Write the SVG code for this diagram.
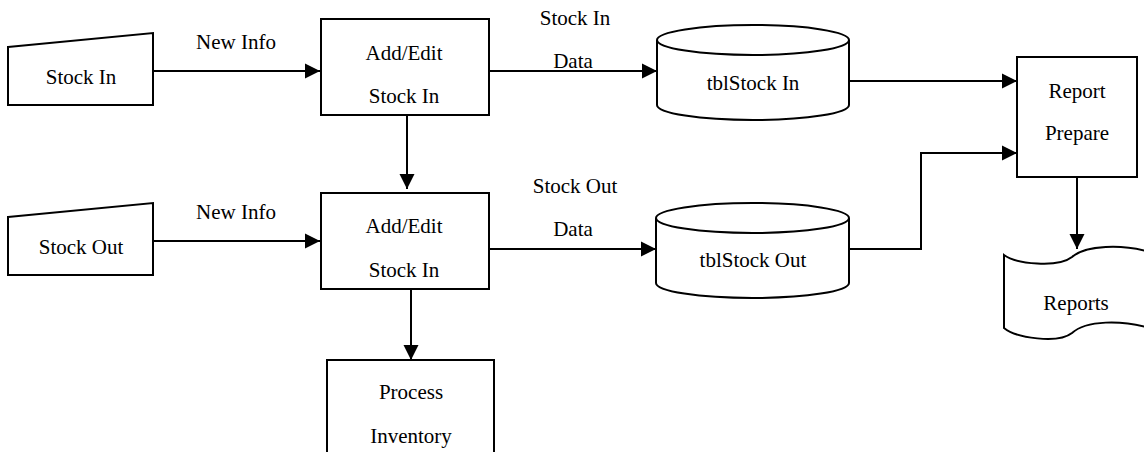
<svg xmlns="http://www.w3.org/2000/svg" width="1144" height="452" viewBox="0 0 1144 452">
  <style>
    .shape { fill: #ffffff; stroke: #000000; stroke-width: 2; }
    .line { fill: none; stroke: #000000; stroke-width: 2; }
    .lbl { font-size: 21px; fill: #000000; text-anchor: middle; }
  </style>
  <defs>
    <marker id="arrow" markerUnits="userSpaceOnUse" markerWidth="16" markerHeight="16" viewBox="0 0 16 16" refX="15" refY="8" orient="auto">
      <path d="M0,0.5 L15,8 L0,15.5 Z" fill="#000000"/>
    </marker>
  </defs>
  <rect width="1144" height="452" fill="#ffffff"/>

  <g id="connectors">
    <line class="line" x1="153" y1="71" x2="320" y2="71" marker-end="url(#arrow)"/>
    <line class="line" x1="489" y1="71" x2="657" y2="71" marker-end="url(#arrow)"/>
    <line class="line" x1="849" y1="81" x2="1017" y2="81" marker-end="url(#arrow)"/>
    <line class="line" x1="407" y1="115" x2="407" y2="189" marker-end="url(#arrow)"/>
    <line class="line" x1="153" y1="241" x2="320" y2="241" marker-end="url(#arrow)"/>
    <line class="line" x1="489" y1="249" x2="656" y2="249" marker-end="url(#arrow)"/>
    <polyline class="line" points="849,249 921,249 921,153 1017,153" marker-end="url(#arrow)"/>
    <line class="line" x1="411" y1="289" x2="411" y2="360" marker-end="url(#arrow)"/>
    <line class="line" x1="1077" y1="177" x2="1077" y2="249" marker-end="url(#arrow)"/>
  </g>

  <g id="labels" font-family="Liberation Serif, DejaVu Serif, serif">
    <text class="lbl" font-family="Liberation Serif, DejaVu Serif, serif" x="236" y="49">New Info</text>
    <text class="lbl" font-family="Liberation Serif, DejaVu Serif, serif" x="575" y="25">Stock In</text>
    <text class="lbl" font-family="Liberation Serif, DejaVu Serif, serif" x="573" y="68">Data</text>
    <text class="lbl" font-family="Liberation Serif, DejaVu Serif, serif" x="236" y="219">New Info</text>
    <text class="lbl" font-family="Liberation Serif, DejaVu Serif, serif" x="575" y="193">Stock Out</text>
    <text class="lbl" font-family="Liberation Serif, DejaVu Serif, serif" x="573" y="236">Data</text>
  </g>

  <g id="stock-in-input" font-family="Liberation Serif, DejaVu Serif, serif">
    <polygon class="shape" points="8,47 153,33 153,105 8,105"/>
    <text class="lbl" x="81" y="84">Stock In</text>
  </g>

  <g id="add-edit-stock-in" font-family="Liberation Serif, DejaVu Serif, serif">
    <rect class="shape" x="321" y="19" width="168" height="96"/>
    <text class="lbl" x="404" y="60">Add/Edit</text>
    <text class="lbl" x="404" y="103">Stock In</text>
  </g>

  <g id="tbl-stock-in" font-family="Liberation Serif, DejaVu Serif, serif">
    <path class="shape" d="M657,40 A96,15 0 0,1 849,40 L849,105 A96,15 0 0,1 657,105 Z"/>
    <path class="line" d="M657,40 A96,15 0 0,0 849,40"/>
    <text class="lbl" x="753" y="90">tblStock In</text>
  </g>

  <g id="report-prepare" font-family="Liberation Serif, DejaVu Serif, serif">
    <rect class="shape" x="1017" y="57" width="120" height="120"/>
    <text class="lbl" x="1077" y="98">Report</text>
    <text class="lbl" x="1077" y="140">Prepare</text>
  </g>

  <g id="stock-out-input" font-family="Liberation Serif, DejaVu Serif, serif">
    <polygon class="shape" points="8,217 153,203 153,275 8,275"/>
    <text class="lbl" x="81" y="254">Stock Out</text>
  </g>

  <g id="add-edit-stock-out" font-family="Liberation Serif, DejaVu Serif, serif">
    <rect class="shape" x="321" y="193" width="168" height="96"/>
    <text class="lbl" x="404" y="233">Add/Edit</text>
    <text class="lbl" x="404" y="277">Stock In</text>
  </g>

  <g id="tbl-stock-out" font-family="Liberation Serif, DejaVu Serif, serif">
    <path class="shape" d="M656,218 A96.5,15 0 0,1 849,218 L849,283 A96.5,15 0 0,1 656,283 Z"/>
    <path class="line" d="M656,218 A96.5,15 0 0,0 849,218"/>
    <text class="lbl" x="753" y="267">tblStock Out</text>
  </g>

  <g id="reports" font-family="Liberation Serif, DejaVu Serif, serif">
    <path class="shape" d="M1004,255 C1016,264 1058,268 1072,257 C1086,245 1122,244 1150,252 L1150,328 C1122,320 1086,320 1072,333 C1058,344 1016,338 1004,328 Z"/>
    <text class="lbl" x="1076" y="310">Reports</text>
  </g>

  <g id="process-inventory" font-family="Liberation Serif, DejaVu Serif, serif">
    <path class="shape" d="M327,456 L327,360 L494,360 L494,456"/>
    <text class="lbl" x="411" y="399">Process</text>
    <text class="lbl" x="411" y="443">Inventory</text>
  </g>
</svg>
